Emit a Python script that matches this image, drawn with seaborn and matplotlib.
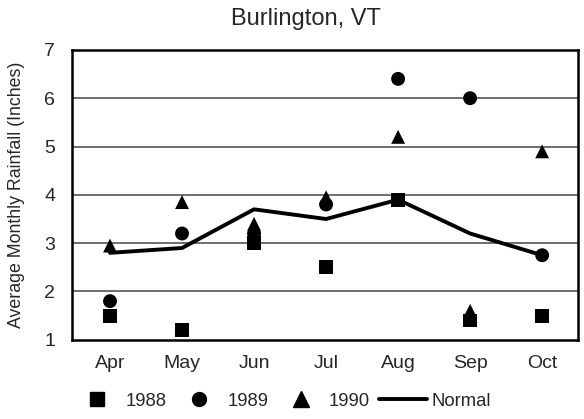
import numpy as np
import pandas as pd
import seaborn as sns
from matplotlib import pyplot as plt
from matplotlib.lines import Line2D

months = ['Apr', 'May', 'Jun', 'Jul', 'Aug', 'Sep', 'Oct']
rain_1988 = [1.5, 1.2, 3.0, 2.5, 3.9, 1.4, 1.5]
rain_1989 = [1.8, 3.2, 3.2, 3.8, 6.4, 6.0, 2.75]
rain_1990 = [2.95, 3.85, 3.4, 3.95, 5.2, 1.6, 4.9]
normal = [2.8, 2.9, 3.7, 3.5, 3.9, 3.2, 2.75]

sns.set_style('white')
plt.rcParams['font.family'] = ['Liberation Sans', 'DejaVu Sans']

df = pd.DataFrame({
    'month': months * 3,
    'x': list(range(len(months))) * 3,
    'rain': rain_1988 + rain_1989 + rain_1990,
    'year': ['1988'] * 7 + ['1989'] * 7 + ['1990'] * 7,
})
norm_df = pd.DataFrame({'x': range(len(months)), 'rain': normal})

fig = plt.figure(figsize=(5.84, 4.19), dpi=100)
ax = fig.add_axes([0.123, 0.189, 0.867, 0.692])

# horizontal grid
for y in range(2, 7):
    ax.axhline(y, color='#555555', lw=1.2, zorder=0)

sns.lineplot(data=norm_df, x='x', y='rain', color='black', lw=2.8, ax=ax, zorder=2)
mk = {'1988': 's', '1989': 'o', '1990': '^'}
sns.scatterplot(data=df, x='x', y='rain', style='year', markers=mk,
                color='black', s=100, edgecolor='black', linewidth=0,
                ax=ax, legend=False, zorder=3)

ax.set_xlim(-0.53, 6.5)
ax.set_ylim(1, 7)
ax.set_xticks(range(len(months)))
ax.set_xticklabels(months, fontsize=14)
ax.set_yticks(range(1, 8))
ax.tick_params(axis='y', labelsize=14, length=0, pad=12)
ax.tick_params(axis='x', length=0, pad=11)
ax.set_xlabel('')
ax.set_ylabel('Average Monthly Rainfall (Inches)', fontsize=12.8)
ax.yaxis.set_label_coords(-0.093, 0.5)
for s in ax.spines.values():
    s.set_color('black')
    s.set_linewidth(1.8)
fig.text(0.524, 0.955, 'Burlington, VT', fontsize=17, ha='center', va='center')

handles = [Line2D([], [], marker='s', color='black', ls='', ms=10),
           Line2D([], [], marker='o', color='black', ls='', ms=10),
           Line2D([], [], marker='^', color='black', ls='', ms=11),
           Line2D([], [], color='black', lw=2.8)]
fig.legend(handles, ['1988', '1989', '1990', 'Normal'], loc='center',
           bbox_to_anchor=(0.483, 0.042), ncol=4, frameon=False, fontsize=13.3,
           handlelength=2.6, handletextpad=0.2, columnspacing=0.5,
           borderpad=0, borderaxespad=0)

fig.savefig('out.png', dpi=100)
